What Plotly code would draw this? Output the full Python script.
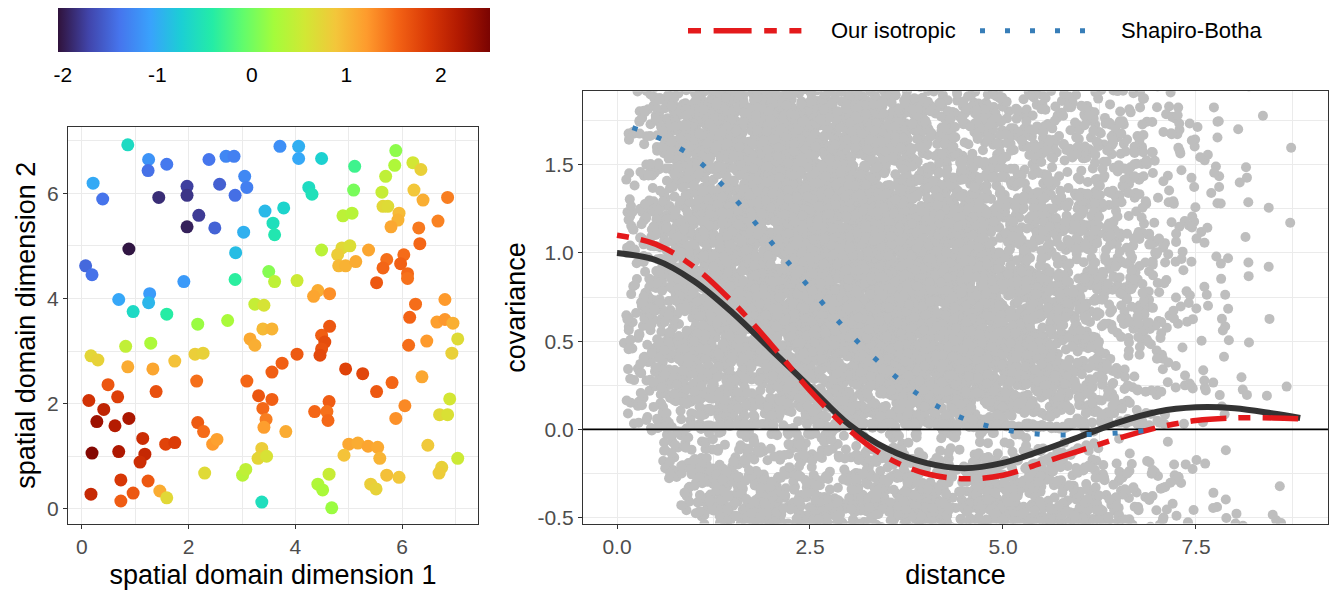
import numpy as np
import plotly.graph_objects as go

# ---------------- data: spatial field (left panel) ----------------
x1 = [0.86, 1.25, 1.24, 1.59, 0.21, 0.39, 1.44, 1.97, 1.97, 2.19, 1.97, 2.38, 2.70, 2.85, 2.58, 3.05, 3.09, 2.87, 2.49, 3.03,
      0.88, 0.07, 0.19, 2.88, 1.91, 2.87, 0.69, 1.27, 1.25, 0.96, 1.59, 3.43, 3.58, 3.61, 3.50, 3.61, 3.24, 3.41, 2.17, 2.73,
      3.71, 4.06, 4.06, 4.49, 5.11, 5.88, 5.86, 6.20, 6.35, 5.69, 4.25, 4.31, 5.09, 5.62, 6.22, 6.39, 6.85, 3.78, 4.89, 5.06,
      5.64, 5.73, 5.94, 5.92, 5.79, 6.31, 6.67, 6.33, 4.49, 4.87, 5.02, 4.79, 4.81, 4.94, 5.13, 5.37, 5.71, 5.64, 6.03, 5.97,
      6.10, 6.10, 5.52, 4.03, 4.42, 4.34, 4.64, 6.25, 6.80, 6.14, 6.65, 6.80, 6.95, 3.15, 3.24, 3.39, 3.56, 0.82, 1.29, 0.17,
      0.30, 0.86, 1.33, 1.74, 2.12, 2.27, 0.49, 0.67, 1.39, 2.15, 3.09, 3.56, 0.13, 0.41, 0.28, 0.62, 0.88, 1.14, 1.57, 1.74,
      2.17, 2.28, 2.45, 2.53, 3.31, 3.39, 3.45, 3.41, 3.56, 0.19, 0.69, 1.18, 1.09, 0.73, 1.24, 0.17, 0.73, 0.96, 1.46, 1.59,
      2.30, 3.01, 3.07, 3.37, 3.37, 3.30, 3.46, 4.49, 4.64, 4.55, 4.49, 4.46, 4.03, 3.75, 4.94, 5.26, 5.52, 5.81, 6.12, 6.46,
      7.04, 6.93, 6.37, 6.89, 6.70, 6.85, 6.05, 5.88, 4.63, 4.36, 4.59, 4.61, 3.82, 5.00, 5.17, 5.36, 5.54, 4.91, 5.58, 6.48,
      7.04, 6.74, 6.69, 5.71, 5.94, 5.41, 5.51, 4.63, 4.42, 4.51, 4.68]
y1 = [6.92, 6.64, 6.43, 6.55, 6.19, 5.89, 5.92, 6.13, 5.96, 5.58, 5.36, 6.64, 6.70, 6.70, 6.17, 6.32, 6.11, 5.96, 5.34, 5.26,
      4.94, 4.62, 4.45, 4.87, 4.32, 4.36, 3.98, 4.09, 3.92, 3.75, 3.70, 5.66, 5.43, 5.21, 4.51, 4.32, 3.89, 3.87, 3.51, 3.58,
      6.89, 6.89, 6.66, 6.66, 6.51, 6.81, 6.53, 6.58, 6.45, 6.32, 6.11, 5.98, 6.06, 6.02, 6.06, 5.87, 5.92, 5.72, 5.57, 5.62,
      5.75, 5.75, 5.62, 5.49, 5.36, 5.34, 5.47, 5.04, 4.92, 4.96, 5.00, 4.83, 4.62, 4.62, 4.70, 4.92, 4.74, 4.58, 4.83, 4.66,
      4.47, 4.38, 4.30, 4.34, 4.15, 4.04, 4.09, 3.89, 3.98, 3.64, 3.55, 3.60, 3.53, 3.23, 3.11, 3.42, 3.42, 3.09, 3.15, 2.91,
      2.83, 2.70, 2.66, 2.81, 2.94, 2.96, 2.36, 2.13, 2.23, 2.43, 2.43, 2.60, 2.06, 1.89, 1.66, 1.58, 1.72, 1.34, 1.23, 1.26,
      1.64, 1.47, 1.23, 1.32, 2.15, 1.91, 1.70, 1.55, 2.08, 1.06, 1.09, 1.04, 0.89, 0.55, 0.53, 0.28, 0.15, 0.30, 0.34, 0.21,
      0.68, 0.64, 0.75, 0.13, 1.15, 0.96, 1.00, 3.30, 3.47, 3.17, 3.04, 2.92, 2.94, 2.77, 2.66, 2.57, 2.23, 2.40, 3.11, 3.19,
      3.23, 2.96, 2.51, 2.09, 1.79, 1.79, 1.96, 1.72, 2.04, 1.85, 1.85, 1.68, 1.47, 1.23, 1.25, 1.19, 1.17, 1.02, 0.96, 1.21,
      0.96, 0.79, 0.68, 0.64, 0.60, 0.47, 0.38, 0.66, 0.47, 0.36, 0.02]
z1 = [-0.62, -1.18, -1.43, -1.37, -1.02, -1.41, -1.88, -1.76, -1.83, -1.79, -1.96, -1.39, -1.27, -1.32, -1.54, -1.26, -1.33, -1.44, -1.52, -0.97,
      -2.03, -1.48, -1.42, -0.88, -1.13, -0.38, -1.04, -1.12, -0.93, -0.63, -0.41, -0.91, -0.57, -0.49, 0.08, 0.42, 0.47, 0.61, 0.18, 0.27,
      -1.21, -0.98, -1.03, -0.72, -0.28, 0.12, 0.31, 0.58, 0.79, 0.43, -0.61, -0.56, 0.02, 0.48, 0.88, 1.07, 1.38, -0.69, 0.41, 0.37,
      0.72, 0.68, 0.97, 1.03, 1.12, 1.41, 1.36, 1.52, 0.39, 0.71, 0.66, 0.82, 0.99, 1.04, 1.09, 1.13, 1.47, 1.53, 1.49, 1.56,
      1.51, 1.46, 1.62, 0.52, 1.08, 1.14, 1.28, 1.48, 1.22, 1.54, 1.18, 1.23, 1.06, 1.11, 1.07, 0.98, 1.02, 0.44, 0.29, 0.73,
      0.77, 1.09, 1.13, 0.92, 0.81, 0.78, 1.63, 1.82, 1.68, 1.47, 1.52, 1.58, 1.93, 2.08, 2.31, 2.17, 2.23, 1.98, 1.78, 1.84,
      1.61, 1.49, 1.21, 1.17, 1.64, 1.51, 1.38, 1.19, 1.57, 2.46, 2.21, 2.03, 1.97, 1.88, 1.62, 2.02, 1.59, 1.63, 1.08, 0.71,
      0.69, 0.38, 0.43, -0.58, 0.82, 0.74, 0.62, 1.58, 1.63, 1.71, 1.67, 1.74, 1.61, 1.57, 1.79, 1.76, 1.62, 1.53, 1.48, 1.22,
      0.68, 0.79, 1.12, 0.58, 0.71, 0.64, 1.32, 1.27, 1.59, 1.52, 1.46, 1.51, 1.09, 1.12, 1.08, 1.14, 1.11, 0.91, 1.02, 0.86,
      0.52, 0.78, 0.83, 0.93, 0.88, 0.81, 0.77, 0.49, 0.32, 0.28, 0.19]

# ---------------- data: covariance curves (right panel) ----------------
d_true = [0.0, 0.5, 1.0, 1.5, 2.0, 2.5, 3.0, 3.5, 4.0, 4.5, 5.0, 5.5, 6.0, 6.5, 7.0, 7.5, 8.0, 8.5, 8.85]
c_true = [1.0, 0.96, 0.84, 0.66, 0.45, 0.24, 0.03, -0.11, -0.19, -0.22, -0.19, -0.12, -0.04, 0.04, 0.10, 0.125, 0.12, 0.09, 0.065]
d_iso = [0.0, 0.5, 1.0, 1.5, 2.0, 2.5, 3.0, 3.5, 4.0, 4.5, 5.0, 5.5, 6.0, 6.5, 7.0, 7.5, 8.0, 8.5, 8.85]
c_iso = [1.10, 1.05, 0.92, 0.72, 0.48, 0.22, 0.0, -0.16, -0.25, -0.28, -0.26, -0.19, -0.12, -0.05, 0.01, 0.05, 0.065, 0.065, 0.06]
d_sb = [0.2, 0.5, 1.0, 1.5, 2.0, 2.5, 3.0, 3.5, 4.0, 4.5, 5.0, 5.5, 6.0, 6.5, 7.0]
c_sb = [1.71, 1.66, 1.54, 1.32, 1.06, 0.80, 0.55, 0.34, 0.17, 0.06, 0.0, -0.028, -0.03, -0.02, 0.0]

legend_names = ["Our isotropic", "Shapiro-Botha"]
cb_ticks = [-2, -1, 0, 1, 2]
CMIN, CMAX = -2.053, 2.519

# ---------------- empirical covariance cloud from the field ----------------
xa, ya, za = np.array(x1), np.array(y1), np.array(z1)
iu = np.triu_indices(len(xa), k=1)
dist = np.hypot(xa[:, None] - xa[None, :], ya[:, None] - ya[None, :])[iu]
prod = np.outer(za, za)[iu]
keep = (prod > -0.65) & (prod < 2.05)
cloud_d, cloud_c = dist[keep], prod[keep]

FONT = "Liberation Sans, Arial, sans-serif"
GRID = "#EBEBEB"
FRAME = "#333333"
TICKC = "#4D4D4D"
W, H = 1336, 598

fig = go.Figure()

CB_LEN = 0.323
CB_X = 0.205
fig.add_trace(go.Scatter(
    x=x1, y=y1, mode="markers", xaxis="x", yaxis="y", showlegend=False,
    marker=dict(size=13, color=z1, colorscale="Turbo", cmin=CMIN, cmax=CMAX,
                line=dict(width=0),
                colorbar=dict(orientation="h", x=CB_X, xanchor="center", y=0.987, yanchor="top",
                              len=CB_LEN, lenmode="fraction", thickness=44, thicknessmode="pixels",
                              outlinewidth=0, xpad=0, ypad=0,
                              tickvals=cb_ticks, ticktext=[str(t) for t in cb_ticks],
                              ticks="outside", ticklen=5, tickcolor="rgba(0,0,0,0)",
                              tickfont=dict(size=21, color="black", family=FONT))),
))

fig.add_trace(go.Scatter(
    x=cloud_d, y=cloud_c, mode="markers", xaxis="x2", yaxis="y2", showlegend=False,
    marker=dict(size=10, color="#BEBEBE", line=dict(width=0)),
))

fig.add_trace(go.Scatter(
    x=[-1, 10], y=[0, 0], mode="lines", xaxis="x2", yaxis="y2", showlegend=False,
    line=dict(color="black", width=1.8),
))

fig.add_trace(go.Scatter(
    x=d_true, y=c_true, mode="lines", xaxis="x2", yaxis="y2", showlegend=False,
    line=dict(color="#333333", width=6, shape="spline"),
))
fig.add_trace(go.Scatter(
    x=d_iso, y=c_iso, mode="lines", xaxis="x2", yaxis="y2", name=legend_names[0], showlegend=False,
    line=dict(color="#E41A1C", width=5.5, shape="spline", dash="12px,12px,36px,12px"),
))
fig.add_trace(go.Scatter(
    x=d_sb, y=c_sb, mode="lines", xaxis="x2", yaxis="y2", name=legend_names[1], showlegend=False,
    line=dict(color="#377EB8", width=5, shape="spline", dash="5px,21px"),
))

def px(v):
    return v / W
def py(v):
    return (H - v) / H

shapes = [
    dict(type="line", xref="paper", yref="paper", x0=px(688), x1=px(802), y0=py(31), y1=py(31),
         line=dict(color="#E41A1C", width=5.5, dash="13px,12.6px,38px,12.6px,12.6px,12.6px,12px,40px")),
    dict(type="line", xref="paper", yref="paper", x0=px(980), x1=px(1085), y0=py(31), y1=py(31),
         line=dict(color="#377EB8", width=5, dash="5px,20px")),
]
# white tick marks inside the colour bar (ggplot style)
cb_left = CB_X - CB_LEN / 2
for t in cb_ticks:
    xp = cb_left + (t - CMIN) / (CMAX - CMIN) * CB_LEN
    for (a, b) in [(8, 15), (45, 52)]:
        shapes.append(dict(type="line", xref="paper", yref="paper", x0=xp, x1=xp, y0=py(a), y1=py(b),
                           line=dict(color="white", width=1.2)))

annotations = [
    dict(text=legend_names[0], xref="paper", yref="paper", x=px(829), y=py(31), xanchor="left", yanchor="middle",
         showarrow=False, font=dict(size=22, color="black", family=FONT)),
    dict(text=legend_names[1], xref="paper", yref="paper", x=px(1119), y=py(31), xanchor="left", yanchor="middle",
         showarrow=False, font=dict(size=22, color="black", family=FONT)),
]

common = dict(showgrid=True, gridcolor=GRID, gridwidth=1.3, zeroline=False,
              showline=True, mirror=True, linecolor=FRAME, linewidth=1.4,
              ticks="outside", ticklen=4, tickcolor=FRAME, tickwidth=1.2,
              tickfont=dict(size=21, color=TICKC, family=FONT),
              title_font=dict(size=27, color="black", family=FONT))

fig.update_layout(
    width=W, height=H, margin=dict(l=0, r=0, t=0, b=0),
    paper_bgcolor="white", plot_bgcolor="white", showlegend=False,
    font=dict(family=FONT),
    xaxis=dict(domain=[0.0509, 0.3578], anchor="y", range=[-0.26, 7.42],
               tickvals=[0, 2, 4, 6], ticktext=["0", "2", "4", "6"],
               minor=dict(tickvals=[1, 3, 5, 7], showgrid=True, gridcolor=GRID, gridwidth=0.8, ticks=""),
               title=dict(text="spatial domain dimension 1", standoff=8), **common),
    yaxis=dict(domain=[0.117, 0.786], anchor="x", range=[-0.28, 7.26],
               tickvals=[0, 2, 4, 6], ticktext=["0", "2", "4", "6"],
               minor=dict(tickvals=[1, 3, 5, 7], showgrid=True, gridcolor=GRID, gridwidth=0.8, ticks=""),
               title=dict(text="spatial domain dimension 2", standoff=3), **common),
    xaxis2=dict(domain=[0.4364, 0.994], anchor="y2", range=[-0.44, 9.21],
                tickvals=[0, 2.5, 5, 7.5], ticktext=["0.0", "2.5", "5.0", "7.5"],
                minor=dict(tickvals=[1.25, 3.75, 6.25, 8.75], showgrid=True, gridcolor=GRID, gridwidth=0.8, ticks=""),
                title=dict(text="distance", standoff=8), **common),
    yaxis2=dict(domain=[0.117, 0.846], anchor="x2", range=[-0.534, 1.916],
                tickvals=[-0.5, 0, 0.5, 1, 1.5], ticktext=["-0.5", "0.0", "0.5", "1.0", "1.5"],
                minor=dict(tickvals=[-0.25, 0.25, 0.75, 1.25, 1.75], showgrid=True, gridcolor=GRID, gridwidth=0.8, ticks=""),
                title=dict(text="covariance", standoff=3), **common),
    shapes=shapes, annotations=annotations,
)

fig.write_html("out.html")
